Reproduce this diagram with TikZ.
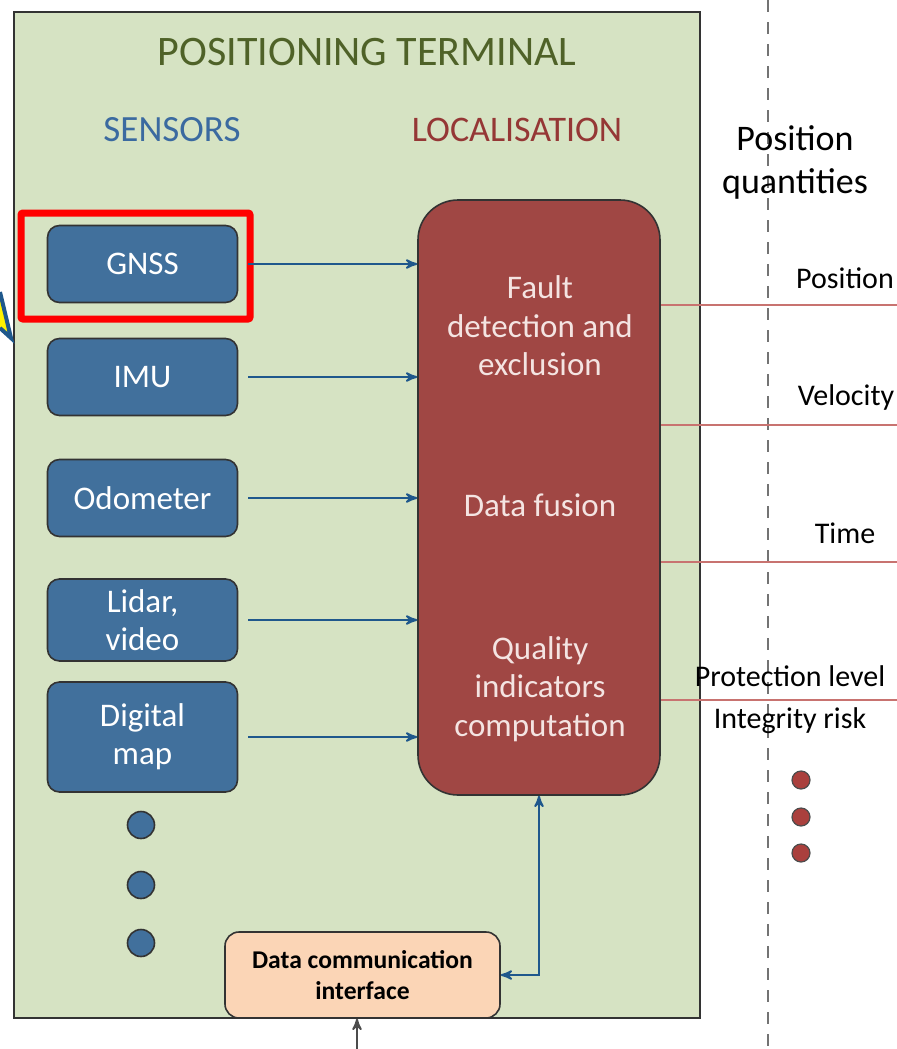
\documentclass[tikz,border=0pt]{standalone}
\usepackage{fontspec}
\setmainfont{Carlito}
\usepackage{tikz}
\usetikzlibrary{arrows,shapes,positioning,calc}
\definecolor{termgreen}{HTML}{D6E3C3}
\definecolor{titlegreen}{HTML}{4F6228}
\definecolor{sensblue}{HTML}{41709C}
\definecolor{headblue}{HTML}{3B6AA0}
\definecolor{arrowblue}{HTML}{1F588C}
\definecolor{locred}{HTML}{A04744}
\definecolor{headred}{HTML}{953735}
\definecolor{lightred}{HTML}{C87370}
\definecolor{peach}{HTML}{FBD5B6}
\definecolor{locwhite}{HTML}{F4E4E2}
\tikzset{
    sensor/.style={
        rectangle,
        rounded corners=6pt,
        draw=black!80,
        thick,
        fill=sensblue,
        text=white,
        align=center,
        font=\fontsize{16.5}{19}\selectfont,
        minimum width=95pt,
        minimum height=38.5pt,
    },
    loc/.style={
        rectangle,
        rounded corners=20pt,
        draw=black!80,
        thick,
        fill=locred,
        minimum width=121pt,
        minimum height=297.5pt,
    },
    loctext/.style={
        text=locwhite,
        align=center,
        font=\fontsize{16.5}{19.3}\selectfont,
    },
    comm/.style={
        rectangle,
        rounded corners=7pt,
        draw=black!80,
        thick,
        fill=peach,
        align=center,
        font=\bfseries\fontsize{12.8}{15.5}\selectfont,
        minimum width=137.5pt,
        minimum height=43pt,
    },
    blue-dot/.style={
        circle,
        draw=black!80,
        thick,
        fill=sensblue,
        minimum size=13.5pt,
        inner sep=0pt,
    },
    red-dot/.style={
        circle,
        draw=black!70,
        semithick,
        fill=locred!90!red,
        minimum size=9pt,
        inner sep=0pt,
    },
    quantity/.style={
        font=\fontsize{15}{17}\selectfont,
    },
    feed/.style={
        draw=arrowblue,
        ->,>=stealth',
        line width=1pt,
    },
    outline/.style={
        draw=lightred,
        line width=1pt,
    },
}

\begin{document}
\begin{tikzpicture}[x=0.5pt,y=-0.5pt]
                \useasboundingbox (0,0) rectangle (897,1049);

                % terminal frame
                \draw[fill=termgreen, draw=black!80, line width=1.2pt] (14,12) rectangle (700,1018);
                \draw[fill=yellow, draw=arrowblue, line width=2pt] (0,292) -- (11,338) -- (0,328);
                \draw[gray!90!black, line width=1.3pt, dash pattern=on 6pt off 5pt] (768,0) -- (768,1049);

                \node[text=titlegreen, font=\fontsize{21}{23}\selectfont] (TITLE) at (367,52) {POSITIONING TERMINAL};
                \node[text=headblue, font=\fontsize{18.5}{20}\selectfont] (SENS) at (172,130) {SENSORS};
                \node[text=headred, font=\fontsize{18}{20}\selectfont] (LOCH) at (517,130) {LOCALISATION};
                \node[align=center, font=\fontsize{18}{21.5}\selectfont] (PQ) at (795,162) {Position\\quantities};

                % sensors
                \node[sensor] (GNSS) at (142.5,264) {GNSS};
                \node[sensor] (IMU) at (142.5,377) {IMU};
                \node[sensor] (ODO) at (142.5,498) {Odometer};
                \node[sensor, minimum height=41pt] (LIDAR) at (142.5,620) {Lidar,\\video};
                \node[sensor, minimum height=55pt] (MAP) at (142.5,737) {Digital\\map};
                \node[blue-dot] (D1) at (141,825) {};
                \node[blue-dot] (D2) at (141,885) {};
                \node[blue-dot] (D3) at (141,943) {};
                \draw[red, line width=3.5pt, rounded corners=1pt] (21,213) rectangle (250,319);

                % localisation
                \node[loc] (LOC) at (539,497.5) {};
                \node[loctext] (FDE) at (540,326) {Fault\\detection and\\exclusion};
                \node[loctext] (FUS) at (540,505) {Data fusion};
                \node[loctext] (QIC) at (540,689) {Quality\\indicators\\computation};

                \node[comm] (DCI) at (362.5,975) {Data communication\\interface};
                \coordinate (IN) at (357,1049);

                \foreach \s in {GNSS,IMU,ODO,LIDAR,MAP}
                    \draw[feed, shorten <=5pt] (\s.east) -- (\s.east -| LOC.west);
                \draw[feed, <->] (DCI.east) -| (LOC.south);
                \draw[->,>=stealth', line width=1pt, draw=black!70] (IN) -- (DCI.south -| IN);

                % outputs
                \coordinate (P-out) at (897,305);
                \coordinate (V-out) at (897,425);
                \coordinate (T-out) at (897,562);
                \coordinate (I-out) at (897,700);
                \foreach \o in {P-out,V-out,T-out,I-out}
                    \draw[outline] (LOC.east |- \o) -- (\o);
                \node[quantity] (POS) at (845,278) {Position};
                \node[quantity] (VEL) at (846,397) {Velocity};
                \node[quantity] (TIM) at (845,533) {Time};
                \node[quantity] (PL) at (790,676) {Protection level};
                \node[quantity] (IR) at (790,721) {Integrity risk};
                \node[red-dot] (R1) at (801,780) {};
                \node[red-dot] (R2) at (801,817) {};
                \node[red-dot] (R3) at (801,853) {};
            \end{tikzpicture}
\end{document}
